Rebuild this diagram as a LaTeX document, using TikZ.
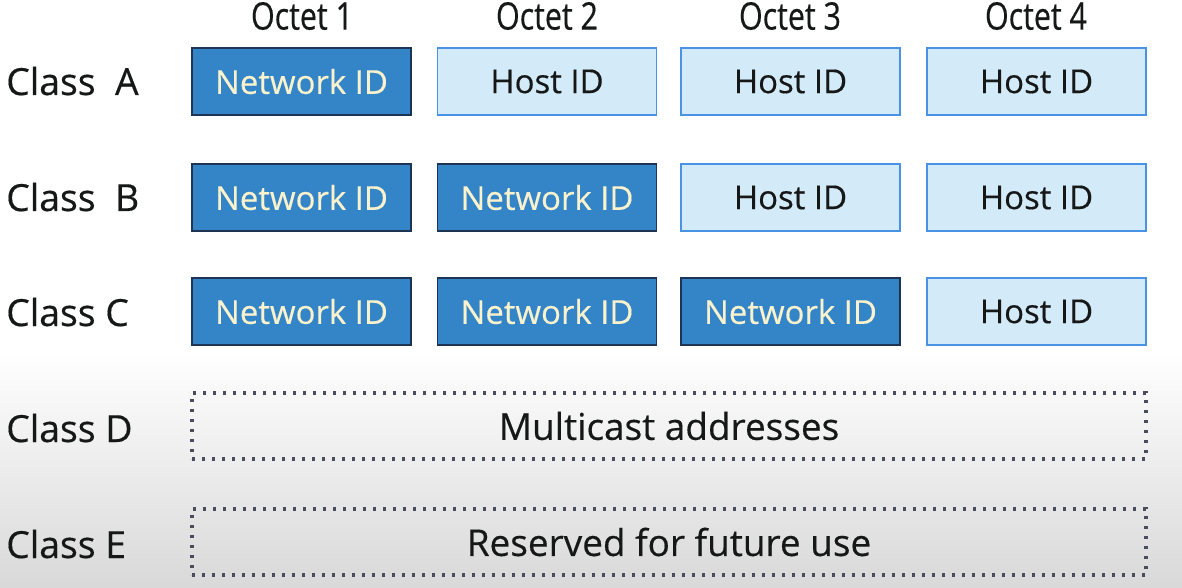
\documentclass[tikz,border=0pt]{standalone}
\usepackage{fontspec}
\setmainfont[FakeBold=0.4]{Open Sans}
\newfontfamily\octetfont[FakeStretch=0.8,FakeBold=0.4]{Open Sans}
\definecolor{netfill}{RGB}{52,133,200}
\definecolor{netline}{RGB}{30,52,84}
\definecolor{nettext}{RGB}{250,242,205}
\definecolor{hostfill}{RGB}{211,235,248}
\definecolor{hostline}{RGB}{74,146,228}
\definecolor{dotline}{RGB}{72,76,92}
\definecolor{labeltext}{RGB}{22,24,24}
\begin{document}
\begin{tikzpicture}[x=0.75pt,y=0.75pt,yscale=-1,xscale=1,
  netbox/.style={draw=netline,fill=netfill,line width=1.4pt,minimum width=164.25pt,minimum height=50.25pt,text=nettext,font=\fontsize{24.7}{28}\selectfont},
  hostbox/.style={draw=hostline,fill=hostfill,line width=1.4pt,minimum width=164.25pt,minimum height=50.25pt,text=labeltext,font=\fontsize{24.7}{28}\selectfont},
  dotbox/.style={draw=dotline,line width=2.3pt,dash pattern=on 2.3pt off 5.2pt,minimum width=715.5pt,minimum height=49.5pt,text=labeltext,font=\fontsize{27.7}{30}\selectfont},
  classlabel/.style={anchor=west,text=labeltext,font=\fontsize{28}{32}\selectfont,inner sep=0pt},
  octetlabel/.style={text=labeltext,font=\octetfont\fontsize{28.5}{30}\selectfont}]
\useasboundingbox (0,0) rectangle (1182,588);

%Background
\fill [white] (0,0) rectangle (1182,350);
\shade [top color=white,bottom color=black!15] (0,350) rectangle (1182,588);

% Octet headings
\draw (302,16) node (octet1) [octetlabel] {Octet 1};
\draw (547,16) node (octet2) [octetlabel] {Octet 2};
\draw (790,16) node (octet3) [octetlabel] {Octet 3};
\draw (1036,16) node (octet4) [octetlabel] {Octet 4};

% Class labels
\draw (6,81) node (classA) [classlabel] {Class\ \ A};
\draw (6,197) node (classB) [classlabel] {Class\ \ B};
\draw (6,312) node (classC) [classlabel] {Class C};
\draw (6,428) node (classD) [classlabel] {Class D};
\draw (6,544) node (classE) [classlabel] {Class E};

% Class A
\draw (301.5,81.5) node (a1) [netbox] {Network ID};
\draw (547,81.5) node (a2) [hostbox] {Host ID};
\draw (790.5,81.5) node (a3) [hostbox] {Host ID};
\draw (1036.5,81.5) node (a4) [hostbox] {Host ID};

% Class B
\draw (301.5,197.5) node (b1) [netbox] {Network ID};
\draw (547,197.5) node (b2) [netbox] {Network ID};
\draw (790.5,197.5) node (b3) [hostbox] {Host ID};
\draw (1036.5,197.5) node (b4) [hostbox] {Host ID};

% Class C
\draw (301.5,311.5) node (c1) [netbox] {Network ID};
\draw (547,311.5) node (c2) [netbox] {Network ID};
\draw (790.5,311.5) node (c3) [netbox] {Network ID};
\draw (1036.5,311.5) node (c4) [hostbox] {Host ID};

% Class D and E
\draw (669,426) node (multicast) [dotbox] {Multicast addresses};
\draw (669,542) node (reserved) [dotbox] {Reserved for future use};

\end{tikzpicture}
\end{document}
